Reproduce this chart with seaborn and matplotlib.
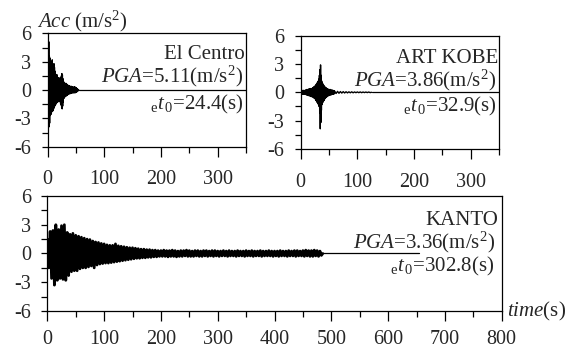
import numpy as np
import seaborn as sns
import matplotlib.pyplot as plt
from matplotlib.ticker import MultipleLocator

sns.set_style('ticks')
plt.rcParams['font.family'] = ['Liberation Serif', 'DejaVu Serif']
plt.rcParams['mathtext.fontset'] = 'custom'
plt.rcParams['mathtext.rm'] = 'Liberation Serif'
plt.rcParams['mathtext.it'] = 'Liberation Serif:italic'
plt.rcParams['axes.unicode_minus'] = False

# Valores (picos superiores / inferiores do acelerograma)

y_ticks = [-6, -3, 0, 3, 6]
y_labels = ['-6', '-3', '0', '3', '6']
x_ticks_top = [0, 100, 200, 300]
x_ticks_bottom = [0, 100, 200, 300, 400, 500, 600, 700, 800]

# El Centro - passo de 1 s
elcentro_t = np.arange(0, 55, 1)
elcentro_up = [1.5, 4.0, 5.11, 3.6, 3.4, 3.1, 3.0, 2.9, 3.2, 2.7,
               2.5, 2.8, 2.4, 2.0, 1.7, 1.6, 1.5, 1.6, 1.3, 1.2,
               1.3, 1.1, 1.2, 1.3, 1.5, 1.75, 1.6, 1.2, 0.9, 0.8,
               0.75, 0.7, 0.65, 0.7, 0.6, 0.55, 0.5, 0.45, 0.45, 0.4,
               0.4, 0.35, 0.4, 0.35, 0.3, 0.3, 0.3, 0.35, 0.3, 0.3,
               0.25, 0.2, 0.15, 0.1, 0.0]
elcentro_lo = [-1.0, -2.8, -3.9, -3.5, -2.7, -2.6, -2.5, -2.3, -2.1, -2.2,
               -2.0, -1.8, -1.7, -1.6, -1.5, -1.4, -1.3, -1.3, -1.2, -1.2,
               -1.1, -1.2, -1.4, -1.6, -1.9, -2.0, -1.7, -1.3, -0.9, -0.8,
               -0.7, -0.7, -0.6, -0.6, -0.55, -0.5, -0.45, -0.4, -0.4, -0.4,
               -0.35, -0.35, -0.3, -0.3, -0.3, -0.3, -0.25, -0.3, -0.3, -0.25,
               -0.2, -0.2, -0.15, -0.1, 0.0]

# ART KOBE - 1 s ate 60 s, depois 5 s ate 120 s
kobe_t = np.r_[np.arange(0, 60, 1), np.arange(60, 125, 5)]
kobe_up = [0.15, 0.2, 0.15, 0.2, 0.15, 0.2, 0.2, 0.15, 0.2, 0.25,
           0.25, 0.3, 0.25, 0.3, 0.35, 0.3, 0.35, 0.4, 0.35, 0.4,
           0.4, 0.45, 0.5, 0.55, 0.6, 0.65, 0.7, 0.8, 0.9, 1.0,
           1.1, 1.2, 1.4, 1.8, 2.4, 2.9, 1.8, 1.2, 1.0, 0.9,
           0.8, 0.7, 0.6, 0.55, 0.5, 0.45, 0.4, 0.35, 0.35, 0.3,
           0.3, 0.25, 0.3, 0.25, 0.2, 0.25, 0.2, 0.2, 0.15, 0.15,
           0.12, 0.1, 0.08, 0.07, 0.06, 0.05, 0.05, 0.04, 0.04, 0.04,
           0.03, 0.03, 0.03]
kobe_lo = [-0.15, -0.2, -0.2, -0.15, -0.2, -0.2, -0.15, -0.2, -0.2, -0.25,
           -0.25, -0.3, -0.3, -0.35, -0.3, -0.35, -0.4, -0.4, -0.45, -0.45,
           -0.45, -0.5, -0.55, -0.6, -0.65, -0.7, -0.8, -0.9, -1.0, -1.1,
           -1.2, -1.3, -1.5, -2.2, -3.86, -3.2, -1.9, -1.3, -1.1, -1.0,
           -0.9, -0.8, -0.7, -0.6, -0.55, -0.5, -0.45, -0.4, -0.35, -0.35,
           -0.3, -0.3, -0.25, -0.25, -0.25, -0.2, -0.2, -0.2, -0.15, -0.15,
           -0.12, -0.1, -0.08, -0.07, -0.06, -0.05, -0.05, -0.04, -0.04, -0.04,
           -0.03, -0.03, -0.03]

# KANTO - passo de 5 s
kanto_t = np.arange(0, 485, 5)
kanto_up = [1.5, 2.3, 2.4, 3.0, 2.5, 2.9, 3.0, 2.2, 2.0, 2.1,
            1.9, 1.8, 1.7, 1.6, 1.5, 1.45, 1.3, 1.2, 1.15, 1.05,
            1.0, 0.9, 0.85, 0.85, 1.0, 0.8, 0.75, 0.7, 0.65, 0.6,
            0.6, 0.55, 0.5, 0.45, 0.45, 0.4, 0.4, 0.35, 0.35, 0.3,
            0.3, 0.35, 0.3, 0.3, 0.35, 0.3, 0.25, 0.3, 0.3, 0.35,
            0.3, 0.25, 0.3, 0.3, 0.25, 0.3, 0.3, 0.25, 0.3, 0.3,
            0.25, 0.25, 0.3, 0.25, 0.3, 0.25, 0.25, 0.3, 0.25, 0.25,
            0.3, 0.25, 0.3, 0.25, 0.25, 0.3, 0.25, 0.25, 0.3, 0.25,
            0.25, 0.25, 0.3, 0.25, 0.25, 0.3, 0.25, 0.3, 0.3, 0.25,
            0.3, 0.35, 0.3, 0.3, 0.35, 0.3, 0.25]
kanto_lo = [-1.5, -2.6, -3.3, -2.8, -2.6, -2.7, -2.8, -2.3, -1.9, -1.8,
            -1.8, -1.6, -1.5, -1.5, -1.4, -1.3, -1.5, -1.2, -1.1, -1.05,
            -1.0, -1.0, -0.95, -0.9, -0.85, -0.8, -0.75, -0.7, -0.65, -0.6,
            -0.55, -0.5, -0.5, -0.45, -0.45, -0.4, -0.4, -0.35, -0.35, -0.3,
            -0.3, -0.3, -0.35, -0.3, -0.3, -0.35, -0.3, -0.3, -0.25, -0.3,
            -0.3, -0.3, -0.25, -0.3, -0.3, -0.25, -0.3, -0.25, -0.3, -0.25,
            -0.3, -0.25, -0.25, -0.3, -0.25, -0.25, -0.3, -0.25, -0.25, -0.3,
            -0.25, -0.25, -0.3, -0.25, -0.25, -0.3, -0.25, -0.25, -0.25, -0.3,
            -0.25, -0.3, -0.25, -0.25, -0.3, -0.25, -0.25, -0.3, -0.25, -0.25,
            -0.3, -0.25, -0.3, -0.3, -0.25, -0.3, -0.2]

registros = [
    ('El Centro', '5.11', '24.4', elcentro_t, elcentro_up, elcentro_lo, 350, 0.9),
    ('ART KOBE', '3.86', '32.9', kobe_t, kobe_up, kobe_lo, 350, 1.0),
    ('KANTO', '3.36', '302.8', kanto_t, kanto_up, kanto_lo, 655, 2.0),
]


def zigzag(t, up, lo):
    t = np.asarray(t, dtype=float)
    passo = np.diff(t, append=t[-1] + (t[-1] - t[-2]))
    x = np.column_stack([t, t + passo / 2]).ravel()
    y = np.column_stack([up, lo]).ravel()
    x = np.append(x, x[-1] + passo[-1] / 2)
    y = np.append(y, 0)
    return x, y


fig = plt.figure(figsize=(5.66, 3.51), dpi=100)
ax1 = fig.add_axes([0.0843, 0.582, 0.3504, 0.323])
ax2 = fig.add_axes([0.5313, 0.5755, 0.3504, 0.323])
ax3 = fig.add_axes([0.0836, 0.114, 0.8028, 0.3276])
eixos = [ax1, ax2, ax3]

fs_tick = 14.5
fs = 15
pos_texto = [(0.995, 0.77, 0.565, 0.33), (0.995, 0.76, 0.55, 0.33), (0.9925, 0.748, 0.545, 0.342)]

for ax, reg, pos in zip(eixos, registros, pos_texto):
    nome, pga, t0, t, up, lo, t_fim, lw = reg
    x, y = zigzag(t, up, lo)
    sns.lineplot(x=x, y=y, ax=ax, color='black', linewidth=lw, sort=False, estimator=None)
    # trecho final em repouso
    sns.lineplot(x=[x[-1], t_fim], y=[0, 0], ax=ax, color='black', linewidth=0.9)
    ax.set_ylim(-6, 6)
    ax.set_yticks(y_ticks)
    ax.set_yticklabels(y_labels)
    ax.yaxis.set_minor_locator(MultipleLocator(1.5))
    ax.xaxis.set_minor_locator(MultipleLocator(50))
    ax.tick_params(axis='both', which='both', direction='out', width=0.9, color='black',
                   labelsize=fs_tick)
    ax.tick_params(axis='x', which='major', length=7, pad=10)
    ax.tick_params(axis='x', which='minor', length=4.5)
    ax.tick_params(axis='y', which='both', length=4.3, pad=7.5)
    for s in ax.spines.values():
        s.set_linewidth(0.9)
        s.set_color('black')
    ax.set_xlabel('')
    ax.set_ylabel('')
    xr, y_nome, y_pga, y_t0 = pos
    ax.text(xr, y_nome, nome, transform=ax.transAxes, ha='right', va='baseline', fontsize=fs)
    ax.text(xr - 0.008, y_pga, r'$\mathit{PGA}$=' + pga + r'(m/s$^{2}$)', transform=ax.transAxes,
            ha='right', va='baseline', fontsize=fs)
    ax.text(xr - 0.008, y_t0, r'${}_{\mathrm{e}}\mathit{t}_{\,0}$=' + t0 + '(s)', transform=ax.transAxes,
            ha='right', va='baseline', fontsize=fs)

for ax in [ax1, ax2]:
    ax.set_xlim(0, 350)
    ax.set_xticks(x_ticks_top)

ax3.set_xlim(0, 800)
ax3.set_xticks(x_ticks_bottom)
ax3.tick_params(axis='x', which='major', pad=6.5)

ax1.text(-0.054, 1.05, r'$\mathit{Acc}$ (m/s$^{2}$)', transform=ax1.transAxes,
         ha='left', va='baseline', fontsize=fs)
ax3.text(1.011, 0.0, r'$\mathit{time}$(s)', transform=ax3.transAxes,
         ha='left', va='center', fontsize=fs)

fig.savefig('out.png', dpi=100)
